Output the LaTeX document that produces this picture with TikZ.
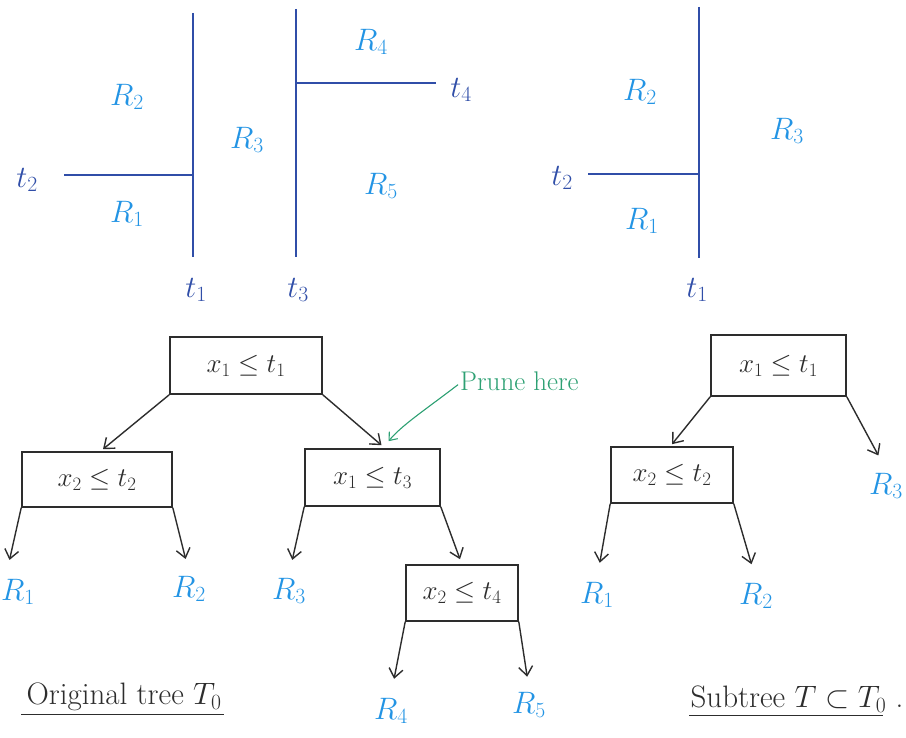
\RequirePackage{fix-cm}
\documentclass[tikz,border=0pt]{standalone}
\usetikzlibrary{arrows.meta}
\definecolor{splitblue}{RGB}{48,78,168}
\definecolor{regblue}{RGB}{35,148,228}
\definecolor{prunegreen}{RGB}{45,160,115}
\definecolor{ink}{RGB}{45,45,45}
\tikzset{
  split/.style={draw=splitblue, line width=2.6pt},
  thr/.style={text=splitblue, font=\fontsize{31}{33}\selectfont},
  reg/.style={text=regblue, font=\fontsize{31}{33}\selectfont},
  testbox/.style={draw=ink, line width=1.6pt, text=ink, inner sep=0pt,
    font=\fontsize{27}{29}\selectfont},
  edge/.style={draw=ink, line width=1.4pt, -{Straight Barb[length=9pt,width=14pt,line width=1.4pt]}},
  caption/.style={text=ink, font=\fontsize{31}{33}\selectfont},
}
\begin{document}
\begin{tikzpicture}[x=1pt,y=-1pt]
\useasboundingbox (0,0) rectangle (906,738);

% ---------- partition of the original tree ----------
\coordinate (t1top) at (193,13);
\coordinate (t1bot) at (193,257);
\coordinate (t2end) at (64,175);
\coordinate (t2mid) at (193,175);
\draw[split] (t1top) -- (t1bot);
\draw[split] (t2end) -- (t2mid);
\coordinate (t3top) at (296,9);
\coordinate (t3bot) at (296,257);
\coordinate (t4mid) at (296,83);
\coordinate (t4end) at (436,83);
\draw[split] (t3top) -- (t3bot);
\draw[split] (t4mid) -- (t4end);
\node[thr] (lt1) at (196,290) {$t_1$};
\node[thr] (lt2) at (27,180) {$t_2$};
\node[thr] (lt3) at (298,290) {$t_3$};
\node[thr] (lt4) at (461,90) {$t_4$};
\node[reg] (pr1) at (127,214) {$R_1$};
\node[reg] (pr2) at (127,97) {$R_2$};
\node[reg] (pr3) at (247,140) {$R_3$};
\node[reg] (pr4) at (371,42) {$R_4$};
\node[reg] (pr5) at (381,186) {$R_5$};

% ---------- partition of the pruned subtree ----------
\coordinate (s1top) at (699,7);
\coordinate (s1bot) at (699,258);
\coordinate (s2end) at (588,174);
\coordinate (s2mid) at (699,174);
\draw[split] (s1top) -- (s1bot);
\draw[split] (s2end) -- (s2mid);
\node[thr] (st1) at (697,290) {$t_1$};
\node[thr] (st2) at (562,178) {$t_2$};
\node[reg] (sr1) at (642,221) {$R_1$};
\node[reg] (sr2) at (640,92) {$R_2$};
\node[reg] (sr3) at (787,131) {$R_3$};

% ---------- original tree T0 ----------
\node[testbox, minimum width=152pt, minimum height=57pt] (a) at (246,365.5) {$x_1 \leq t_1$};
\node[testbox, minimum width=150pt, minimum height=55pt] (b) at (97,479.5) {$x_2 \leq t_2$};
\node[testbox, minimum width=135pt, minimum height=57pt] (c) at (372.5,477.5) {$x_1 \leq t_3$};
\node[testbox, minimum width=112pt, minimum height=56pt] (d) at (462,593) {$x_2 \leq t_4$};
\node[reg] (l1) at (18,592) {$R_1$};
\node[reg] (l2) at (189,589) {$R_2$};
\node[reg] (l3) at (289,591) {$R_3$};
\node[reg] (l4) at (391,711) {$R_4$};
\node[reg] (l5) at (529,705) {$R_5$};

\draw[edge] (a.south west) -- ([xshift=6pt,yshift=2pt]b.north);
\draw[edge] (a.south east) -- ([xshift=9pt,yshift=3pt]c.north);
\draw[edge, shorten >=16pt] (b.south west) -- ([xshift=-12pt]l1.north);
\draw[edge, shorten >=14pt] (b.south east) -- (l2.north);
\draw[edge, shorten >=15pt] (c.south west) -- (l3.north);
\draw[edge] (c.south east) -- ([xshift=-2pt,yshift=5pt]d.north);
\draw[edge, shorten >=16pt] (d.south west) -- (l4.north);
\draw[edge, shorten >=12pt] (d.south east) -- (l5.north);

\node[text=prunegreen, font=\fontsize{27}{29}\selectfont, anchor=west, inner sep=2pt] (prune) at (458,381) {Prune here};
\draw[prunegreen, line width=1.1pt, -{Straight Barb[length=7pt,width=11pt,line width=1.1pt]}]
  ([yshift=8pt]prune.south west) .. controls (425,410) and (402,425) .. ([xshift=16pt,yshift=7pt]c.north);

\node[caption] (cap1) at (124,697) {Original tree $T_0$};
\draw[ink, line width=1.4pt] ([xshift=-2pt]cap1.south west) -- ([xshift=-1pt]cap1.south east);

% ---------- pruned subtree T ----------
\node[testbox, minimum width=135pt, minimum height=61pt] (sa) at (778.5,365.5) {$x_1 \leq t_1$};
\node[testbox, minimum width=122pt, minimum height=56pt] (sb) at (672,475) {$x_2 \leq t_2$};
\node[reg] (m1) at (597,595) {$R_1$};
\node[reg] (m2) at (756,596) {$R_2$};
\node[reg] (m3) at (886,486) {$R_3$};

\draw[edge] (sa.south west) -- ([yshift=2pt]sb.north);
\draw[edge, shorten >=16pt] (sa.south east) -- (m3.north);
\draw[edge, shorten >=16pt] (sb.south west) -- (m1.north);
\draw[edge, shorten >=16pt] (sb.south east) -- (m2.north);

\node[caption] (cap2) at (797,699) {Subtree $T \subset T_0$ .};
\draw[ink, line width=1.4pt] ([xshift=2pt]cap2.south west) -- ([xshift=-24pt]cap2.south east);
\end{tikzpicture}
\end{document}
